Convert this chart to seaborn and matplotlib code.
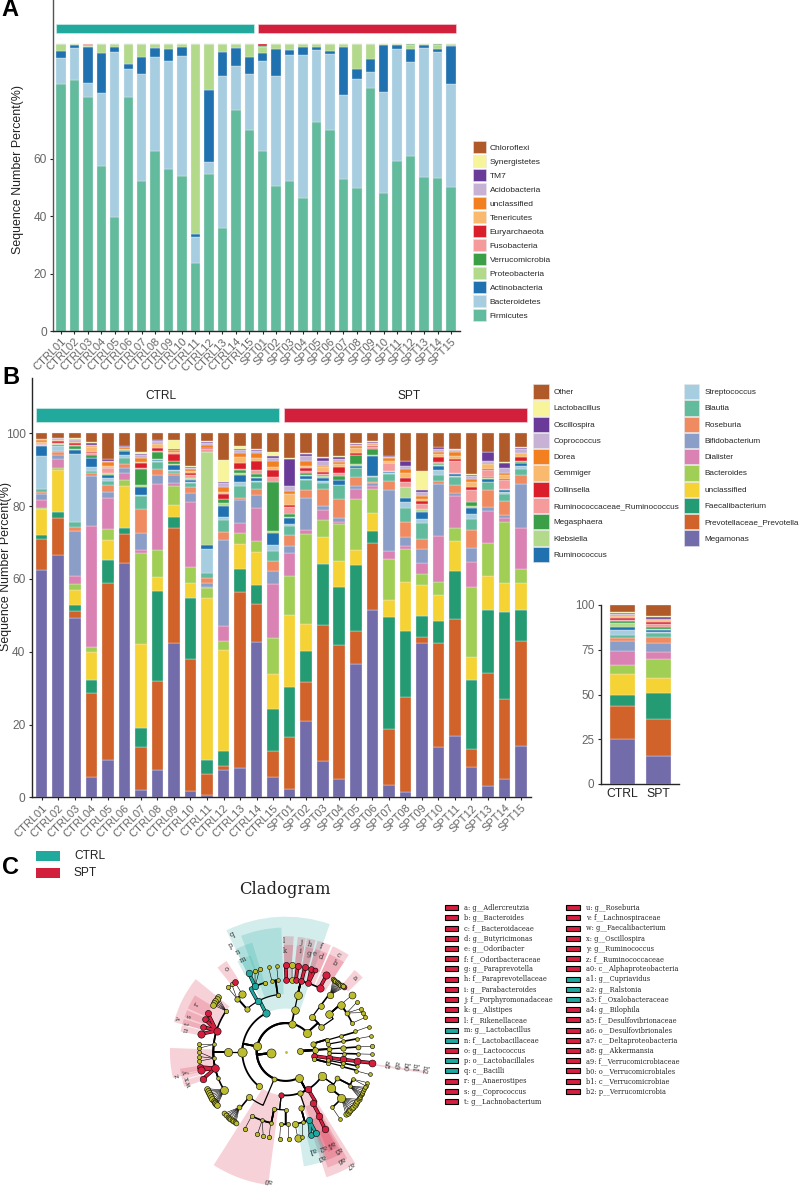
"""Stacked microbiome composition bars (phylum, genus, group means) and a LEfSe style cladogram."""

import matplotlib

matplotlib.use("Agg")

import matplotlib.pyplot as plt
import numpy as np
import pandas as pd
import seaborn as sns
from matplotlib.patches import Patch, Rectangle

sns.set_theme(style="ticks")
plt.rcParams["font.family"] = ["Liberation Sans", "DejaVu Sans"]

W, H = 800, 1186
TEAL = "#22A99E"
CRIMSON = "#D21F3C"
OLIVE = "#BCBC2E"
TICK_GREY = "#666666"

SAMPLES = [f"CTRL{i:02d}" for i in range(1, 16)] + [f"SPT{i:02d}" for i in range(1, 16)]

# panel A, percent per sample
FIRMICUTES = [85.8, 87.5, 81.6, 57.5, 39.7, 81.4, 52.2, 62.8, 56.4, 54.0, 23.6, 54.8, 36.0, 77.0, 70.0,
              62.8, 50.3, 52.2, 46.4, 72.8, 70.1, 53.0, 49.8, 84.7, 47.9, 59.0, 60.8, 53.7, 53.4, 50.1]
BACTEROIDETES = [9.2, 10.9, 4.6, 25.5, 57.3, 9.9, 37.3, 32.4, 37.4, 41.8, 9.0, 3.9, 52.8, 15.4, 19.5,
                 31.0, 38.4, 44.0, 49.6, 25.0, 26.4, 29.0, 37.8, 5.3, 35.4, 39.0, 32.8, 44.7, 43.6, 35.7]
ACTINOBACTERIA = [2.3, 1.2, 12.8, 13.8, 1.7, 1.5, 5.9, 3.4, 4.2, 2.9, 1.2, 25.1, 8.2, 6.1, 5.7,
                  2.8, 9.5, 1.6, 2.8, 1.1, 0.8, 17.0, 3.7, 4.5, 16.1, 1.5, 4.6, 1.2, 1.1, 13.3]
PROTEOBACTERIA = [2.7, 0.4, 0.3, 3.2, 1.3, 7.2, 4.6, 1.4, 2.0, 1.3, 66.2, 16.2, 3.0, 1.3, 4.8,
                  2.4, 1.8, 2.2, 1.2, 1.1, 2.7, 1.0, 8.6, 5.5, 0.6, 0.5, 1.4, 0.4, 1.5, 0.9]
VERRUCOMICROBIA = [0] * 15 + [0.3, 0, 0, 0, 0, 0, 0, 0, 0, 0, 0, 0.4, 0, 0.4, 0]
FUSOBACTERIA = [0, 0, 0.7, 0, 0, 0, 0, 0, 0, 0, 0, 0, 0, 0.2, 0] + [0] * 7 + [0.1] + [0] * 7
EURYARCHAEOTA = [0] * 15 + [0.7] + [0] * 14

PHYLA = ["Firmicutes", "Bacteroidetes", "Actinobacteria", "Proteobacteria", "Verrucomicrobia", "Fusobacteria",
         "Euryarchaeota", "Tenericutes", "unclassified", "Acidobacteria", "TM7", "Synergistetes", "Chloroflexi"]
PHYLA_COLORS = ["#63BB9E", "#A6CEE0", "#1F72AF", "#B2DA8A", "#3A9F47", "#F59B9B", "#DB1F2A",
                "#F9B96E", "#F38020", "#C7B2D5", "#6A3A98", "#F7F49B", "#AF5A28"]

# panel B, cumulative tops from Megamonas up to Lactobacillus, "Other" fills to 100
GENERA = ["Megamonas", "Prevotellaceae_Prevotella", "Faecalibacterium", "unclassified", "Bacteroides", "Dialister",
          "Bifidobacterium", "Roseburia", "Blautia", "Streptococcus", "Ruminococcus", "Klebsiella", "Megasphaera",
          "Ruminococcaceae_Ruminococcus", "Collinsella", "Gemmiger", "Dorea", "Coprococcus", "Oscillospira",
          "Lactobacillus", "Other"]
GENUS_COLORS = ["#736CAB", "#D0622A", "#259B73", "#F5D335", "#A1CE55", "#DA82B3", "#8B9EC7", "#F08A60", "#63BB9E",
                "#A6CEE0", "#1F72AF", "#B2DA8A", "#3A9F47", "#F59B9B", "#DB1F2A", "#F9B96E", "#F38020", "#C7B2D5",
                "#6A3A98", "#F7F49B", "#AF5A28"]

CTRL01 = [62.4, 71, 72, 79.3, 79.5, 81.7, 83.3, 83.8, 84.7, 93.8, 96.5, 96.7, 96.8, 97, 97.2, 97.7, 98.1, 98.4, 98.5, 98.5]
CTRL02 = [66.6, 76.7, 78.3, 90, 90.4, 93, 94, 94.8, 95.2, 96.5, 96.9, 97, 97.1, 97.4, 97.8, 98.1, 98.3, 98.7, 98.8, 98.8]
CTRL03 = [49.3, 51.1, 52.8, 56.9, 58.7, 60.9, 73.3, 74.3, 75.5, 94.2, 95.5, 95.7, 96.6, 96.9, 97.3, 97.6, 98, 98.4, 98.5, 98.6]
CTRL04 = [5.5, 28.6, 32.3, 39.9, 41.3, 74.6, 88.3, 89, 89.6, 90.7, 93.1, 93.2, 94.1, 94.5, 95, 96.2, 96.6, 96.9, 97.4, 97.5]
CTRL05 = [10.3, 59, 65.2, 70.7, 73.8, 82.3, 84, 85.8, 87, 87.8, 88.5, 89, 89.2, 90.4, 90.6, 91.1, 92, 92.5, 92.9, 93]
CTRL06 = [64.5, 72.4, 74, 85.6, 87.2, 89.2, 90.5, 91.6, 93.1, 94, 95.1, 95.2, 95.3, 95.4, 95.5, 95.8, 96.2, 96.3, 96.4, 96.4]
CTRL07 = [2.1, 13.7, 19, 42.2, 67, 68, 72.5, 79.3, 82.8, 83, 85.3, 85.8, 90.3, 90.4, 91.8, 92, 93.2, 94, 94.3, 95]
CTRL08 = [7.6, 32, 56.6, 60.5, 67.9, 86, 88.5, 90.2, 92, 92.5, 92.8, 92.9, 95, 95.1, 96, 97, 97.4, 97.8, 98.1, 98.1]
CTRL09 = [42.3, 74, 77.1, 80.3, 85.5, 86.4, 88.5, 89.1, 89.6, 89.9, 91.3, 91.5, 92.4, 92.5, 94.4, 94.8, 95.3, 95.4, 95.6, 98.1]
CTRL10 = [1.6, 38.1, 54.8, 58.8, 63.2, 81, 83.5, 85.2, 86.4, 86.6, 87.3, 87.7, 87.8, 88.5, 89.2, 89.6, 90.3, 90.6, 90.8, 90.9]
CTRL11 = [0.5, 6.4, 10.3, 54.8, 57.5, 57.8, 58.8, 60.3, 61.5, 68.2, 69.2, 94.9, 95, 95.8, 95.9, 96.1, 96.8, 97.3, 97.7, 97.8]
CTRL12 = [7.6, 8.7, 12.7, 40.4, 42.9, 47, 70.7, 72.8, 76.2, 76.9, 79.9, 80.8, 81.9, 82, 83.2, 83.9, 85.2, 86.3, 86.6, 92.6]
CTRL13 = [8.1, 56.5, 62.7, 69.5, 72.5, 75.3, 81.7, 82.3, 85.5, 86.5, 88.6, 89, 90, 90.1, 91.9, 93.6, 94.6, 95.4, 95.6, 96.5]
CTRL14 = [42.7, 53.2, 58.3, 67.5, 70.4, 79.6, 83, 84.6, 86.7, 87, 87.8, 88, 88.8, 89.9, 92.4, 93.2, 94.5, 95.1, 95.4, 95.6]
CTRL15 = [5.5, 12.7, 24.3, 33.9, 43.8, 58.6, 62.2, 65, 67.8, 69.3, 72.5, 73.2, 86.7, 88, 89.9, 90.8, 92.5, 93.1, 93.8, 95]
SPT01 = [2.2, 16.6, 30.4, 50, 60.9, 67, 69, 72, 74.6, 75, 76.6, 77.1, 77.7, 79.7, 80.4, 83.2, 84.2, 85.4, 92.9, 93.1]
SPT02 = [20.9, 31.7, 40.1, 47.5, 72.4, 73.4, 82.1, 84.5, 87.2, 87.4, 88.2, 88.6, 89.1, 89.7, 90.6, 91, 92.4, 93.8, 94.3, 94.5]
SPT03 = [10.1, 47.3, 64.1, 71.6, 76.3, 78.9, 80, 84.6, 86.4, 86.8, 87.8, 88.2, 88.6, 88.8, 89.5, 90.8, 90.9, 92.4, 93.3, 93.5]
SPT04 = [5.1, 41.8, 57.8, 65, 75.1, 75.7, 76.7, 82, 85.7, 85.8, 87.2, 87.3, 88.3, 89, 90.7, 91.5, 92, 92.9, 93.5, 93.7]
SPT05 = [36.7, 45.7, 63.8, 67.9, 82, 84.6, 85.6, 88.1, 90.4, 90.6, 90.9, 91.6, 94, 94.1, 94.5, 95.9, 96.5, 96.9, 97.2, 97.3]
SPT06 = [51.4, 70, 73.2, 78.1, 84.6, 85.6, 86.3, 86.7, 88.1, 88.2, 93.9, 94, 95.8, 96.2, 96.4, 96.7, 97.1, 97.3, 97.6, 98]
SPT07 = [3.3, 18.7, 49.5, 54.3, 65.5, 67.7, 84.4, 87, 88.8, 89, 89.5, 89.6, 89.7, 91.8, 91.9, 92.5, 93.1, 93.6, 93.8, 93.9]
SPT08 = [1.5, 27.6, 45.7, 59.2, 68.3, 69, 71.4, 75.7, 79.4, 81, 82.2, 85.2, 85.3, 86.6, 87.8, 89.2, 90.3, 91.1, 92.3, 92.4]
SPT09 = [42.5, 44, 49.8, 58.2, 61.4, 64.3, 68.3, 71, 75.4, 76.5, 78.5, 79.1, 79.3, 80.5, 81.3, 81.9, 82.7, 83.9, 84.4, 89.7]
SPT10 = [13.8, 42.5, 48.4, 55.5, 59.1, 71.7, 86.1, 87, 88.6, 89.8, 90.9, 91.4, 91.7, 92, 93.4, 94.4, 94.9, 95.8, 96.2, 96.3]
SPT11 = [16.8, 49, 62.3, 70.4, 74, 82.9, 83.6, 85.9, 88.1, 88.3, 88.8, 89, 89.1, 92.5, 93, 93.7, 94.9, 95.3, 95.5, 95.6]
SPT12 = [8.2, 13.2, 32.1, 38.6, 57.7, 64.6, 68.5, 73.5, 76.5, 77.9, 79.5, 79.9, 81.1, 84.4, 85.3, 86.5, 87.4, 88.2, 88.6, 88.9]
SPT13 = [3, 34.1, 51.5, 60.7, 69.8, 78.6, 79.7, 84.5, 86.5, 86.7, 87.4, 87.6, 87.9, 89.8, 90.2, 91.6, 91.9, 92.5, 94.9, 95]
SPT14 = [4.9, 26.9, 51, 59, 75.5, 76.6, 77.5, 81.3, 83.3, 84, 84.4, 84.6, 84.8, 87.2, 87.5, 88.5, 89, 90.5, 91.9, 92]
SPT15 = [14.1, 42.9, 51.5, 58.9, 62.8, 73.9, 86.2, 88.6, 90.2, 90.9, 91.8, 91.9, 92, 92.5, 93.5, 94.5, 94.7, 95.7, 96.1, 96.2]
GENUS_TOPS = [CTRL01, CTRL02, CTRL03, CTRL04, CTRL05, CTRL06, CTRL07, CTRL08, CTRL09, CTRL10, CTRL11, CTRL12, CTRL13,
              CTRL14, CTRL15, SPT01, SPT02, SPT03, SPT04, SPT05, SPT06, SPT07, SPT08, SPT09, SPT10, SPT11, SPT12, SPT13,
              SPT14, SPT15]

GROUPS = ["CTRL", "SPT"]
MEAN_CTRL = [25, 43.4, 49.7, 61.6, 66.5, 74.3, 79.9, 81.8, 83.2, 86.2, 87.7, 89.8, 91.2, 91.8, 92.9, 93.9, 94.4, 95.1, 95.5, 95.9]
MEAN_SPT = [15.5, 36.5, 51, 59.2, 69.6, 73.9, 78.6, 81.9, 84.2, 84.7, 86.2, 86.8, 87.5, 89.2, 90.7, 91.6, 92, 92.4, 93.3, 93.7]

# cladogram nodes: id, parent, level, angle in degrees, marker area, clade colour (None = not enriched)
BASE_NODES = [("A", "root", 1, 185, 34, None), ("B", "root", 1, 4, 16, None)]
BACTEROIDETES_NODES = [
    ("bact", "A", 2, 78, 22, None), ("bacc", "bact", 3, 78, 24, None), ("baco", "bacc", 4, 78, 26, None),
    ("fl", "baco", 5, 89.5, 14, "r"), ("fx", "baco", 5, 85, 14, None), ("fj", "baco", 5, 82, 14, "r"),
    ("fh", "baco", 5, 77.4, 14, "r"), ("ff", "baco", 5, 71.8, 14, "r"), ("fc", "baco", 5, 62, 22, "r"),
    ("gk", "fl", 6, 90, 16, "r"), ("gx", "fx", 6, 85.8, 16, None), ("gi", "fj", 6, 82, 16, "r"),
    ("gg", "fh", 6, 77.2, 16, "r"), ("gd", "ff", 6, 73, 14, "r"), ("ge", "ff", 6, 70.5, 10, "r"),
    ("gb", "fc", 6, 62, 22, "r"),
]
ACTINO_NODES = [
    ("acti", "A", 2, 42, 28, None), ("ac1", "acti", 3, 53, 16, None), ("ac2", "ac1", 4, 53, 14, None),
    ("ac3", "ac2", 5, 52, 18, None), ("ga", "ac3", 6, 48, 10, "r"),
    ("ac4", "acti", 3, 35, 14, None), ("ac5", "ac4", 4, 41, 24, None), ("ac6", "ac5", 5, 40.7, 24, None),
    ("ac7", "ac6", 6, 40.6, 20, None), ("ac8", "ac5", 5, 32.6, 10, None), ("ac9", "ac5", 5, 23.5, 7, None),
    ("ac10", "ac9", 6, 23.5, 7, None),
]
VERRUCO_NODES = [
    ("b2", "B", 2, -8, 14, "r"), ("b1", "b2", 3, -7.6, 18, "r"), ("b0", "b1", 4, -7.4, 18, "r"),
    ("a9", "b0", 5, -7.4, 20, "r"), ("a8", "a9", 6, -7.2, 20, "r"),
]
SPOKE_NODES = [
    ("s17a", "B", 2, 17, 12, None), ("s17b", "s17a", 3, 16, 8, None), ("s17c", "s17b", 4, 16, 6, None),
    ("s17d", "s17c", 5, 16.5, 6, None), ("s17e", "s17d", 6, 17, 6, None),
    ("s10b", "s17a", 3, 10.5, 8, None), ("s10c", "s10b", 4, 10.5, 6, None), ("s10d", "s10c", 5, 10.5, 6, None),
    ("s10e", "s10d", 6, 10.5, 6, None),
    ("s4a", "B", 2, 4, 14, None), ("s4b", "s4a", 3, 4, 10, None), ("s4c", "s4b", 4, 4, 12, None),
    ("s4d", "s4c", 5, 4, 10, None), ("s4e", "s4d", 6, 3.8, 8, None),
    ("s0b", "s4a", 3, -1.5, 6, None), ("s0c", "s0b", 4, -1.5, 6, None), ("s0d", "s0c", 5, -1.5, 6, None),
    ("s0e", "s0d", 6, -1.5, 6, None),
    ("s14a", "B", 2, -14, 8, None), ("s14b", "s14a", 3, -14, 8, None), ("s14c", "s14b", 4, -14.5, 6, None),
    ("s14d", "s14c", 5, -15, 6, None), ("s14e", "s14d", 6, -15, 6, None),
    ("s11b", "s14a", 3, -11, 6, None), ("s11c", "s11b", 4, -11, 6, None), ("s11d", "s11c", 5, -11, 5, None),
]
PROTEO_NODES = [
    ("prot", "A", 2, 298, 26, None),
    ("a0", "prot", 3, 264, 12, "r"), ("pr2", "prot", 3, 289, 12, None), ("a7", "prot", 3, 301, 18, "r"),
    ("pr4", "prot", 3, 326, 30, None),
    ("al1", "a0", 4, 258.5, 8, None), ("al2", "a0", 4, 270, 7, None), ("al3", "al1", 5, 242, 8, None),
    ("al3g", "al3", 6, 242, 8, None), ("al4", "al1", 5, 251, 6, None), ("al4g", "al4", 6, 251, 8, None),
    ("al4h", "al4", 6, 255, 8, None), ("al5", "al1", 5, 258, 6, None), ("al5g", "al5", 6, 259, 8, None),
    ("al6", "al2", 5, 266, 7, None), ("al6g", "al6", 6, 266, 8, None), ("al7", "al2", 5, 272, 7, None),
    ("al7g", "al7", 6, 272, 8, None),
    ("a6", "a7", 4, 298, 18, "r"), ("a5", "a6", 5, 297.3, 18, "r"), ("a4", "a5", 6, 297, 18, "r"),
    ("pr5", "pr2", 4, 285.3, 12, None), ("a3", "pr5", 5, 289, 16, "t"), ("a1", "a3", 6, 286.6, 14, "t"),
    ("a2", "a3", 6, 290.5, 16, "t"), ("pr6", "pr5", 5, 277.4, 16, None), ("pr6g", "pr6", 6, 278, 22, None),
    ("pr7", "pr5", 5, 283.7, 6, None), ("pr7g", "pr7", 6, 281, 6, None),
    ("pr8", "pr4", 4, 321, 30, None), ("pr9", "pr4", 4, 333, 10, None), ("pr10", "pr8", 5, 320.4, 28, None),
    ("pr11", "pr8", 5, 310, 6, None), ("pr11g", "pr11", 6, 309, 6, None), ("pr12", "pr9", 5, 332, 6, None),
    ("pr13", "pr9", 5, 338, 6, None), ("pr13g", "pr13", 6, 339.4, 6, None), ("pr13h", "pr13", 6, 337, 6, None),
]
FIRMICUTES_NODES = [
    ("firm", "A", 2, 169, 28, None), ("baci", "firm", 3, 117, 22, "t"), ("clos", "firm", 3, 180, 36, None),
    ("eryp", "firm", 3, 232, 16, None),
    ("o1", "baci", 4, 132, 12, None), ("pp", "baci", 4, 119, 18, "t"), ("o3", "baci", 4, 98, 8, None),
    ("f1", "o1", 5, 132.4, 12, None), ("f2", "o1", 5, 127, 22, None), ("f1a", "f1", 6, 132, 8, None),
    ("f1b", "f1", 6, 128.5, 8, None), ("go", "f2", 6, 126, 14, "r"),
    ("nn", "pp", 5, 115, 18, "t"), ("mm", "nn", 6, 115, 18, "t"), ("n1", "nn", 6, 110.7, 8, None),
    ("n2", "nn", 6, 107.5, 8, None), ("f3", "pp", 5, 107, 8, None), ("f4", "o3", 5, 101, 6, None),
    ("f4g", "f4", 6, 101.4, 6, None), ("f5", "o3", 5, 96, 6, None), ("f5g", "f5", 6, 96, 6, None),
    ("clo4", "clos", 4, 180, 28, None), ("vv", "clo4", 5, 163, 22, "r"), ("zz", "clo4", 5, 193, 24, "r"),
    ("cf3", "clo4", 5, 145.4, 8, None), ("cf4", "clo4", 5, 174, 6, None), ("cf5", "clo4", 5, 185, 6, None),
    ("cf6", "clo4", 5, 211.8, 26, None), ("cf7", "clo4", 5, 201, 6, None),
    ("gr", "vv", 6, 153.6, 16, "r"), ("gs", "vv", 6, 158, 14, "r"), ("gt", "vv", 6, 163, 14, "r"),
    ("gu", "vv", 6, 168, 22, "r"), ("gy", "zz", 6, 190, 16, "r"), ("gx2", "zz", 6, 192, 22, "r"),
    ("gw", "zz", 6, 198, 18, "r"),
    ("x1", "A", 2, 247, 10, None), ("e4", "x1", 4, 231, 16, None), ("e5", "e4", 5, 230, 10, None),
]
# leaf fans: parent, angles of the genus nodes, marker area
FANS = [
    ("ac3", [57, 56, 55, 54, 53, 52, 51, 50, 49], 9),
    ("ac8", [35, 30, 27], 7),
    ("cf3", [141, 142.5, 144, 145.5, 147], 14),
    ("cf4", [175, 177.5], 7),
    ("cf5", [180, 183, 186], 7),
    ("cf6", [205, 206.5, 208, 209.5, 211, 212.5, 214, 215, 216, 217, 218], 14),
    ("e5", [225, 226.5, 228, 229, 230.5, 232, 233, 234, 235], 10),
    ("pr10", [314, 315.5, 317, 318, 319.5, 321, 322.5, 324, 325.5, 327], 12),
    ("pr12", [328, 329, 330, 331, 332, 333.5, 335, 336], 6),
]
# highlighted clades: first angle, last angle, inner radius, outer radius, colour
WEDGES = [
    (71, 116, 3, 9.35, "t"), (92, 111, 4, 8.6, "t"), (107, 116, 5, 7.9, "t"), (110, 118, 6, 7.1, "t"),
    (86, 91, 5, 8, "r"), (86, 91, 6, 7.4, "r"), (80, 84, 5, 8, "r"), (80, 84, 6, 7.4, "r"), (75, 79.5, 5, 8, "r"),
    (75, 79, 6, 7.4, "r"), (67, 74, 5, 8, "r"), (67, 71, 6, 7.4, "r"), (71, 74, 6, 7.4, "r"), (57, 66, 5, 8, "r"),
    (57, 66, 6, 7.4, "r"), (44, 50, 6, 7.4, "r"), (123, 129, 6, 7.5, "r"), (141, 165, 5, 8, "r"), (148, 156, 6, 7.4, "r"),
    (157, 161, 6, 7.4, "r"), (162, 165, 6, 7.4, "r"), (165.5, 169, 6, 7.4, "r"), (178, 193, 5, 8, "r"),
    (189, 192, 6, 7.4, "r"), (192.5, 195, 6, 7.4, "r"), (195.5, 199, 6, 7.4, "r"), (237.5, 262.5, 3, 9.27, "r"),
    (288, 302, 3, 9.1, "r"), (290, 300, 4, 8.5, "r"), (291, 299, 5, 8, "r"), (293, 298, 6, 7.5, "r"),
    (279, 291, 5, 8, "t"), (284, 288, 6, 7.3, "t"), (288, 292, 6, 7.3, "t"), (351.3, 352.3, 2, 9.8, "r"),
]
# letter on the clade: text, angle, radius
CLADE_LABELS = [
    ("q", 114.5, 8.9), ("p", 117, 8.25), ("n", 115.4, 7.63), ("m", 115, 7), ("o", 125.5, 7), ("l", 90.7, 7.67),
    ("k", 90.7, 7), ("j", 82, 7.63), ("i", 82, 7.05), ("h", 77.8, 7.63), ("g", 76.6, 7), ("e", 74, 7.05), ("d", 70, 7),
    ("f", 71.6, 7.67), ("c", 61.5, 7.63), ("b", 61, 7), ("a", 47, 7), ("r", 152, 7), ("s", 160, 7.05), ("t", 164, 7.07),
    ("u", 167.5, 7), ("v", 163, 7.72), ("z", 192.5, 7.65), ("y", 191.7, 7.03), ("x", 195, 7), ("w", 198, 7),
    ("a0", 262, 8.99), ("a1", 285, 7), ("a2", 291, 7.05), ("a3", 288.5, 7.67), ("a4", 296, 7.03), ("a5", 298, 7.63),
    ("a6", 297, 8.39), ("a7", 299.7, 8.99), ("a8", 352.6, 7), ("a9", 353, 7.67), ("b0", 353, 8.32), ("b1", 353.2, 8.94),
    ("b2", 352.6, 9.63),
]
LEGEND_NAMES = [
    "a: g__Adlercreutzia", "b: g__Bacteroides", "c: f__Bacteroidaceae", "d: g__Butyricimonas", "e: g__Odoribacter",
    "f: f__Odoribacteraceae", "g: g__Paraprevotella", "h: f__Paraprevotellaceae", "i: g__Parabacteroides",
    "j: f__Porphyromonadaceae", "k: g__Alistipes", "l: f__Rikenellaceae", "m: g__Lactobacillus",
    "n: f__Lactobacillaceae", "o: g__Lactococcus", "p: o__Lactobacillales", "q: c__Bacilli", "r: g__Anaerostipes",
    "s: g__Coprococcus", "t: g__Lachnobacterium", "u: g__Roseburia", "v: f__Lachnospiraceae", "w: g__Faecalibacterium",
    "x: g__Oscillospira", "y: g__Ruminococcus", "z: f__Ruminococcaceae", "a0: c__Alphaproteobacteria",
    "a1: g__Cupriavidus", "a2: g__Ralstonia", "a3: f__Oxalobacteraceae", "a4: g__Bilophila",
    "a5: f__Desulfovibrionaceae", "a6: o__Desulfovibrionales", "a7: c__Deltaproteobacteria", "a8: g__Akkermansia",
    "a9: f__Verrucomicrobiaceae", "b0: o__Verrucomicrobiales", "b1: c__Verrucomicrobiae", "b2: p__Verrucomicrobia",
]
TEAL_LEGEND = ["m:", "n:", "p:", "q:", "a1:", "a2:", "a3:"]


def px_axes(fig, left, top, right, bottom, **kwargs):
    """Axes placed by pixel box, y counted from the top of the figure."""
    return fig.add_axes([left / W, 1 - bottom / H, (right - left) / W, (bottom - top) / H], **kwargs)


def fig_xy(x, y):
    return x / W, 1 - y / H


def stacked_frame(labels, names, rows):
    """Long table for histplot from per sample percentages."""
    records = [
        {"sample": label, "taxon": name, "percent": value}
        for label, row in zip(labels, rows)
        for name, value in zip(names, row)
    ]
    return pd.DataFrame(records)


def draw_stack(ax, frame, names, colors, shrink):
    # histplot puts the first hue on top of the stack
    sns.histplot(
        data=frame, x="sample", hue="taxon", weights="percent", multiple="stack", shrink=shrink,
        hue_order=names[::-1], palette=dict(zip(names, colors)), alpha=1, edgecolor="#EFEFF2", linewidth=0.25,
        legend=False, ax=ax,
    )
    ax.set(xlabel="", ylabel="")


def style_axes(ax, yticks, tick_size=8.6):
    sns.despine(ax=ax)
    ax.set_yticks(yticks)
    ax.tick_params(axis="y", labelsize=tick_size, labelcolor=TICK_GREY, length=2.5, width=0.8, pad=2)
    ax.spines["left"].set_linewidth(1)
    ax.spines["bottom"].set_linewidth(1)
    ax.patch.set_alpha(0)


def draw_sample_ticks(ax):
    ax.set_xticks(range(len(SAMPLES)))
    ax.set_xticklabels(SAMPLES, rotation=45, ha="right", rotation_mode="anchor")
    ax.tick_params(axis="x", labelsize=8, labelcolor=TICK_GREY, length=2.5, width=0.8, pad=1.5)


def square_legend(fig, names, colors, anchor, fontsize, **kwargs):
    handles = [Patch(facecolor=c, edgecolor="#E6E6E6", linewidth=0.4) for c in colors]
    fig.legend(handles, names, loc="upper left", bbox_to_anchor=fig_xy(*anchor), frameon=False, fontsize=fontsize,
               borderpad=0, borderaxespad=0, **kwargs)


def draw_cladogram(ax):
    color_of = {"r": "#D61F3F", "t": "#1FA8A0"}
    for t1, t2, r_in, r_out, key in WEDGES:
        ax.bar(np.radians((t1 + t2) / 2), r_out - r_in, width=np.radians(t2 - t1), bottom=r_in,
               color=color_of[key], alpha=0.2, linewidth=0, zorder=1)

    rows = BASE_NODES + BACTEROIDETES_NODES + ACTINO_NODES + VERRUCO_NODES + SPOKE_NODES + PROTEO_NODES + FIRMICUTES_NODES
    for parent, angles, size in FANS:
        rows = rows + [(f"{parent}_{a}", parent, 6, a, size, None) for a in angles]
    where = {"root": (0, 0)}
    where.update({row[0]: (row[2], row[3]) for row in rows})
    clade = {row[0]: row[5] for row in rows}
    widths = {2: 1.5, 3: 1.3, 4: 0.9, 5: 1.2, 6: 0.4}

    for name, parent, level, angle, size, key in rows:
        if parent == "root":
            continue
        p_level, p_angle = where[parent]
        if level == 6:
            thetas = np.radians([p_angle, angle])
            radii = [p_level, level]
        else:
            # arc on the child's ring, then radial line back to the parent
            thetas = np.radians([p_angle] + list(np.linspace(p_angle, angle, 24)))
            radii = [p_level] + [level] * 24
        lw = widths[level]
        if key and clade.get(parent) == key:
            # only links inside an enriched clade take its colour
            ax.plot(thetas, radii, color="black", lw=2.6, solid_capstyle="round", zorder=3)
            ax.plot(thetas, radii, color=color_of[key], lw=1.8, solid_capstyle="round", zorder=4)
        else:
            ax.plot(thetas, radii, color="black", lw=lw, zorder=2)

    for name, parent, level, angle, size, key in rows:
        ax.scatter(np.radians(angle), level, s=size * 1.25, color=color_of.get(key, OLIVE), edgecolor="black",
                   linewidth=0.4, zorder=5)
    ax.scatter(0, 0, s=1, color=OLIVE, zorder=5)

    for text, angle, radius in CLADE_LABELS:
        ax.text(np.radians(angle), radius, text, rotation=(angle - 90) % 360, rotation_mode="anchor", ha="center",
                va="center", fontsize=5, color="#333333", family="DejaVu Serif", zorder=6)
    ax.set_ylim(0, 10)
    ax.set_axis_off()


fig = plt.figure(figsize=(W / 100, H / 100), dpi=100, facecolor="white")

# panel A
phylum_rows = np.array([FIRMICUTES, BACTEROIDETES, ACTINOBACTERIA, PROTEOBACTERIA, VERRUCOMICROBIA, FUSOBACTERIA,
                        EURYARCHAEOTA]).T
ax_a = px_axes(fig, 53, 0, 460, 331)
draw_stack(ax_a, stacked_frame(SAMPLES, PHYLA[:7], phylum_rows), PHYLA[:7], PHYLA_COLORS[:7], 0.7)
style_axes(ax_a, [0, 20, 40, 60])
ax_a.spines["left"].set_color("#555555")
draw_sample_ticks(ax_a)
ax_a.set_xlim(-0.595, 29.67)
ax_a.set_ylim(0, 115.2)
ax_a.barh(105.35, 14.74, left=-0.37, height=3.3, color=TEAL, edgecolor="#D8F0EE", linewidth=0.4)
ax_a.barh(105.35, 14.72, left=14.67, height=3.3, color=CRIMSON, edgecolor="#F5D8DD", linewidth=0.4)
fig.text(*fig_xy(18, 170), "Sequence Number Percent(%)", rotation=90, fontsize=8.9, color="#222222", ha="center", va="center")
square_legend(fig, PHYLA[::-1], PHYLA_COLORS[::-1], (472.7, 140.7), 6, handlelength=1.56, handleheight=1.93,
              labelspacing=0.18, handletextpad=0.5)

# panel B
genus_rows = np.diff(np.column_stack([np.zeros(30), np.array(GENUS_TOPS), np.full(30, 100.0)]), axis=1)
ax_b = px_axes(fig, 31.7, 378, 531, 797.3)
draw_stack(ax_b, stacked_frame(SAMPLES, GENERA, genus_rows), GENERA, GENUS_COLORS, 0.7)
style_axes(ax_b, [0, 20, 40, 60, 80, 100])
draw_sample_ticks(ax_b)
ax_b.set_xlim(-0.605, 29.6)
ax_b.set_ylim(0, 115.2)
ax_b.barh(105, 14.72, left=-0.36, height=4, color=TEAL, edgecolor="#D8F0EE", linewidth=0.4)
ax_b.barh(105, 14.7, left=14.66, height=4, color=CRIMSON, edgecolor="#F5D8DD", linewidth=0.4)
ax_b.text(7.2, 110.3, "CTRL", ha="center", va="center", fontsize=8.6, color="#222222")
ax_b.text(22.2, 110.3, "SPT", ha="center", va="center", fontsize=8.6, color="#222222")
fig.text(*fig_xy(6.5, 567), "Sequence Number Percent(%)", rotation=90, fontsize=8.9, color="#222222", ha="center", va="center")
square_legend(fig, GENERA[::-1], GENUS_COLORS[::-1], (533.3, 384), 5.85, ncols=2, handlelength=1.93, handleheight=2.52,
              labelspacing=0.12, handletextpad=0.6, columnspacing=0.5)

# group means
mean_rows = np.diff(np.column_stack([np.zeros(2), np.array([MEAN_CTRL, MEAN_SPT]), np.full(2, 100.0)]), axis=1)
ax_m = px_axes(fig, 600.7, 605, 679, 784)
draw_stack(ax_m, stacked_frame(GROUPS, GENERA, mean_rows), GENERA, GENUS_COLORS, 0.71)
style_axes(ax_m, [0, 25, 50, 75, 100], tick_size=8.4)
ax_m.set_xticks([0, 1])
ax_m.set_xticklabels(GROUPS)
ax_m.tick_params(axis="x", labelsize=8.8, labelcolor="#222222", length=0, pad=3)
ax_m.set_xlim(-0.606, 1.57)
ax_m.set_ylim(0, 100)

# panel C
ax_c = px_axes(fig, 285.7 - 144.7, 1052 - 144.7, 285.7 + 144.7, 1052 + 144.7, projection="polar")
draw_cladogram(ax_c)
fig.text(*fig_xy(285, 890), "Cladogram", family="DejaVu Serif", fontsize=11.8, ha="center", va="center", color="#222222")

for top, color, text in [(851, TEAL, "CTRL"), (868, CRIMSON, "SPT")]:
    fig.add_artist(Rectangle(fig_xy(36, top + 10), 24 / W, 10 / H, transform=fig.transFigure, facecolor=color,
                             edgecolor="none"))
    fig.text(*fig_xy(74, top + 5), text, fontsize=8.6, ha="left", va="center", color="#222222")

clade_handles = [
    Patch(facecolor="#1FA8A0" if name.split()[0] in TEAL_LEGEND else "#D61F3F", edgecolor="black", linewidth=0.8)
    for name in LEGEND_NAMES
]
fig.legend(clade_handles, LEGEND_NAMES, loc="upper left", bbox_to_anchor=fig_xy(445, 904), ncols=2, frameon=False,
           prop={"family": "DejaVu Serif", "size": 4.8}, borderpad=0, borderaxespad=0, handlelength=2.0,
           handleheight=0.75, labelspacing=0.33, handletextpad=0.9, columnspacing=2.0)

for letter, x, y in [("A", 1, 10), ("B", 2, 377), ("C", 2, 867)]:
    fig.text(*fig_xy(x, y), letter, fontsize=17, fontweight="bold", ha="left", va="center", color="black")

fig.savefig("out.png", dpi=100)
plt.close(fig)
